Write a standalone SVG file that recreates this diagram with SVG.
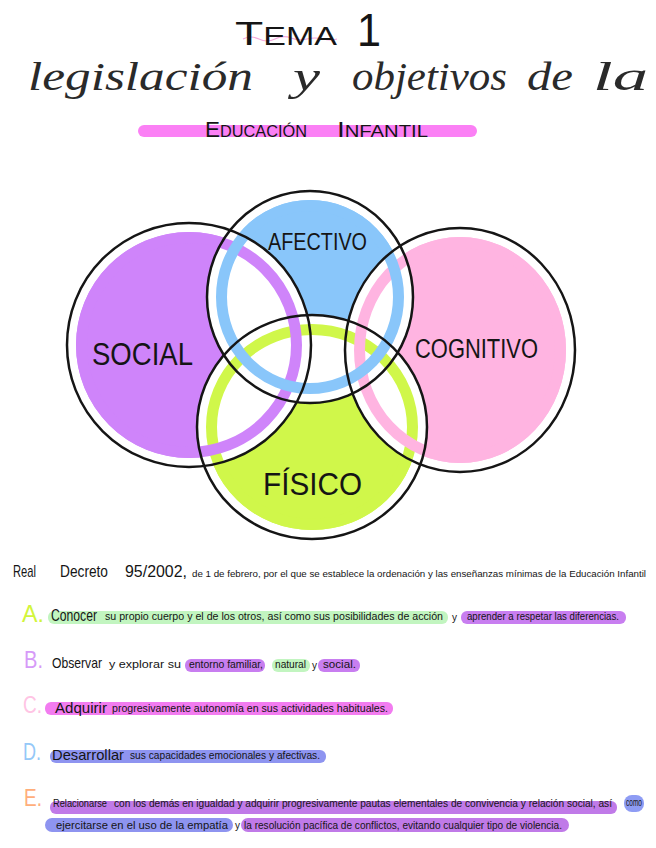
<svg xmlns="http://www.w3.org/2000/svg" xmlns:xlink="http://www.w3.org/1999/xlink" width="656" height="848" viewBox="0 0 656 848">
<style>
.t{font-family:"Liberation Sans",Arial,sans-serif;fill:#151515}
.cur{font-family:"Liberation Serif","DejaVu Serif",serif;font-style:italic;fill:#2a2a2a}
.lab{font-family:"Liberation Sans",Arial,sans-serif;fill:#151515}
.sm{font-size:10px}
.big{font-size:15px}
.let{font-family:"Liberation Sans",Arial,sans-serif;font-size:24px}
.out{fill:none;stroke:#151515;stroke-width:2.5}
.ring{fill:none;stroke-width:11}
</style>
<defs>
<ellipse id="oS" cx="189" cy="345" rx="122" ry="122"/>
<ellipse id="oA" cx="310" cy="297" rx="103" ry="106"/>
<ellipse id="oC" cx="460" cy="350" rx="115" ry="122"/>
<ellipse id="oF" cx="312" cy="427" rx="115" ry="112"/>
<mask id="mS" maskUnits="userSpaceOnUse" x="0" y="0" width="656" height="848"><rect width="656" height="848" fill="#fff"/><use href="#oA" fill="#000"/><use href="#oF" fill="#000"/></mask>
<mask id="mA" maskUnits="userSpaceOnUse" x="0" y="0" width="656" height="848"><rect width="656" height="848" fill="#fff"/><use href="#oS" fill="#000"/><use href="#oC" fill="#000"/><use href="#oF" fill="#000"/></mask>
<mask id="mC" maskUnits="userSpaceOnUse" x="0" y="0" width="656" height="848"><rect width="656" height="848" fill="#fff"/><use href="#oA" fill="#000"/><use href="#oF" fill="#000"/></mask>
<mask id="mF" maskUnits="userSpaceOnUse" x="0" y="0" width="656" height="848"><rect width="656" height="848" fill="#fff"/><use href="#oS" fill="#000"/><use href="#oA" fill="#000"/><use href="#oC" fill="#000"/></mask>
</defs>
<rect width="656" height="848" fill="#fff"/>

<g id="title">
<path d="M243 39 q8 -4 16 0 t16 0 t16 -1 t16 1 t16 0 t14 0" fill="none" stroke="#f4a6dc" stroke-width="1.2"/>
<text class="t" x="235" y="45" textLength="102" lengthAdjust="spacingAndGlyphs"><tspan font-size="34">T</tspan><tspan font-size="25">EMA</tspan></text>
<text class="t" x="357" y="46" font-size="46" textLength="24" lengthAdjust="spacingAndGlyphs">1</text>
<text class="cur" x="28" y="90" font-size="40" textLength="225" lengthAdjust="spacingAndGlyphs">legislación</text>
<text class="cur" x="293" y="90" font-size="40" textLength="27" lengthAdjust="spacingAndGlyphs">y</text>
<text class="cur" x="352" y="90" font-size="40" textLength="155" lengthAdjust="spacingAndGlyphs">objetivos</text>
<text class="cur" x="527" y="90" font-size="40" textLength="46" lengthAdjust="spacingAndGlyphs">de</text>
<text class="cur" x="593" y="90" font-size="40" textLength="55" lengthAdjust="spacingAndGlyphs">la</text>
<rect x="138" y="125" width="339" height="12" rx="6" fill="#fb80f5"/>
<text class="t" x="205" y="137" textLength="102" lengthAdjust="spacingAndGlyphs"><tspan font-size="22">E</tspan><tspan font-size="16">DUCACIÓN</tspan></text>
<text class="t" x="337" y="137" textLength="91" lengthAdjust="spacingAndGlyphs"><tspan font-size="22">I</tspan><tspan font-size="16">NFANTIL</tspan></text>
</g>

<g id="venn">
<g id="node-fisico">
<ellipse cx="312" cy="427" rx="106" ry="103" fill="#d0f74a" mask="url(#mF)"/>
<ellipse class="ring" cx="312" cy="427" rx="100.5" ry="97.5" stroke="#d0f74a"/>
<text class="lab" x="263" y="495" font-size="32" textLength="99" lengthAdjust="spacingAndGlyphs">FÍSICO</text>
</g>
<g id="node-social">
<ellipse cx="189" cy="345" rx="113" ry="113" fill="#cf84fa" mask="url(#mS)"/>
<ellipse class="ring" cx="189" cy="345" rx="107.5" ry="107.5" stroke="#cf84fa"/>
<text class="lab" x="92" y="365" font-size="31" textLength="101" lengthAdjust="spacingAndGlyphs">SOCIAL</text>
</g>
<g id="node-cognitivo">
<ellipse cx="460" cy="350" rx="106" ry="113" fill="#ffb4e1" mask="url(#mC)"/>
<ellipse class="ring" cx="460" cy="350" rx="100.5" ry="107.5" stroke="#ffb4e1"/>
<text class="lab" x="415" y="358" font-size="27" textLength="123" lengthAdjust="spacingAndGlyphs">COGNITIVO</text>
</g>
<g id="node-afectivo">
<ellipse cx="310" cy="297" rx="94" ry="97" fill="#89c6fa" mask="url(#mA)"/>
<ellipse class="ring" cx="310" cy="297" rx="88.5" ry="91.5" stroke="#89c6fa"/>
<text class="lab" x="268" y="250" font-size="23" textLength="99" lengthAdjust="spacingAndGlyphs">AFECTIVO</text>
</g>
<g id="outlines">
<use href="#oS" class="out"/>
<use href="#oA" class="out"/>
<use href="#oC" class="out"/>
<use href="#oF" class="out"/>
</g>
</g>

<g id="decreto">
<text class="t" x="13" y="577" font-size="17" textLength="23" lengthAdjust="spacingAndGlyphs">Real</text>
<text class="t" x="60" y="577" font-size="17" textLength="48" lengthAdjust="spacingAndGlyphs">Decreto</text>
<text class="t" x="125" y="577" font-size="17" textLength="62" lengthAdjust="spacingAndGlyphs">95/2002,</text>
<text class="t" x="192" y="577" font-size="9" textLength="454" lengthAdjust="spacingAndGlyphs">de 1 de febrero, por el que se establece la ordenación y las enseñanzas mínimas de la Educación Infantil</text>
</g>

<g id="objetivo-a">
<rect x="48" y="611" width="400" height="13" rx="6" fill="#c2f5c0"/>
<rect x="461" y="611" width="165" height="13" rx="6" fill="#c87ef0"/>
<text class="let" x="22" y="622" fill="#d2f53c" textLength="22" lengthAdjust="spacingAndGlyphs">A.</text>
<text class="t" x="51" y="621" font-size="16" textLength="46" lengthAdjust="spacingAndGlyphs">Conocer</text>
<text class="t sm" x="105" y="620" textLength="338" lengthAdjust="spacingAndGlyphs">su propio cuerpo y el de los otros, así como sus posibilidades de acción</text>
<text class="t sm" x="452" y="621">y</text>
<text class="t sm" x="467" y="620" textLength="152" lengthAdjust="spacingAndGlyphs">aprender a respetar las diferencias.</text>
</g>

<g id="objetivo-b">
<rect x="185" y="659" width="80" height="13" rx="6" fill="#c87ef0"/>
<rect x="272" y="659" width="38" height="13" rx="6" fill="#c2f5c0"/>
<rect x="318" y="659" width="42" height="13" rx="6" fill="#c87ef0"/>
<text class="let" x="24" y="668" fill="#d69af8" textLength="19" lengthAdjust="spacingAndGlyphs">B.</text>
<text class="t big" x="52" y="668" textLength="50" lengthAdjust="spacingAndGlyphs">Observar</text>
<text class="t sm" x="109" y="668" textLength="72" lengthAdjust="spacingAndGlyphs">y explorar su</text>
<text class="t sm" x="189" y="668" textLength="74" lengthAdjust="spacingAndGlyphs">entorno familiar,</text>
<text class="t sm" x="275" y="668" textLength="31" lengthAdjust="spacingAndGlyphs">natural</text>
<text class="t sm" x="312" y="669">y</text>
<text class="t sm" x="323" y="668" textLength="33" lengthAdjust="spacingAndGlyphs">social.</text>
</g>

<g id="objetivo-c">
<rect x="45" y="702" width="348" height="13" rx="6" fill="#f27cf0"/>
<text class="let" x="23" y="713" fill="#ffc4e4" textLength="19" lengthAdjust="spacingAndGlyphs">C.</text>
<text class="t big" x="55" y="713" textLength="52" lengthAdjust="spacingAndGlyphs">Adquirir</text>
<text class="t sm" x="112" y="712" textLength="276" lengthAdjust="spacingAndGlyphs">progresivamente autonomía en sus actividades habituales.</text>
</g>

<g id="objetivo-d">
<rect x="50" y="750" width="276" height="13" rx="6" fill="#8e94f0"/>
<text class="let" x="23" y="760" fill="#94c8f8" textLength="18" lengthAdjust="spacingAndGlyphs">D.</text>
<text class="t big" x="52" y="760" textLength="72" lengthAdjust="spacingAndGlyphs">Desarrollar</text>
<text class="t sm" x="130" y="759" textLength="190" lengthAdjust="spacingAndGlyphs">sus capacidades emocionales y afectivas.</text>
</g>

<g id="objetivo-e">
<rect x="50" y="801" width="567" height="13" rx="6" fill="#c07ae8"/>
<rect x="624" y="795" width="20" height="17" rx="8" fill="#8e9cf4"/>
<rect x="45" y="818" width="188" height="14" rx="7" fill="#8e94f0"/>
<rect x="241" y="818" width="328" height="14" rx="7" fill="#c07ae8"/>
<text class="let" x="24" y="806" fill="#ffae7a" textLength="18" lengthAdjust="spacingAndGlyphs">E.</text>
<text class="t" x="53" y="807" font-size="10" textLength="54" lengthAdjust="spacingAndGlyphs">Relacionarse</text>
<text class="t sm" x="114" y="807" textLength="498" lengthAdjust="spacingAndGlyphs">con los demás en igualdad y adquirir progresivamente pautas elementales de convivencia y relación social, así</text>
<text class="t sm" x="626" y="806" textLength="16" lengthAdjust="spacingAndGlyphs">como</text>
<text class="t sm" x="56" y="829" textLength="172" lengthAdjust="spacingAndGlyphs">ejercitarse en el uso de la empatía</text>
<text class="t sm" x="235" y="829">y</text>
<text class="t sm" x="244" y="829" textLength="318" lengthAdjust="spacingAndGlyphs">la resolución pacífica de conflictos, evitando cualquier tipo de violencia.</text>
</g>
</svg>
